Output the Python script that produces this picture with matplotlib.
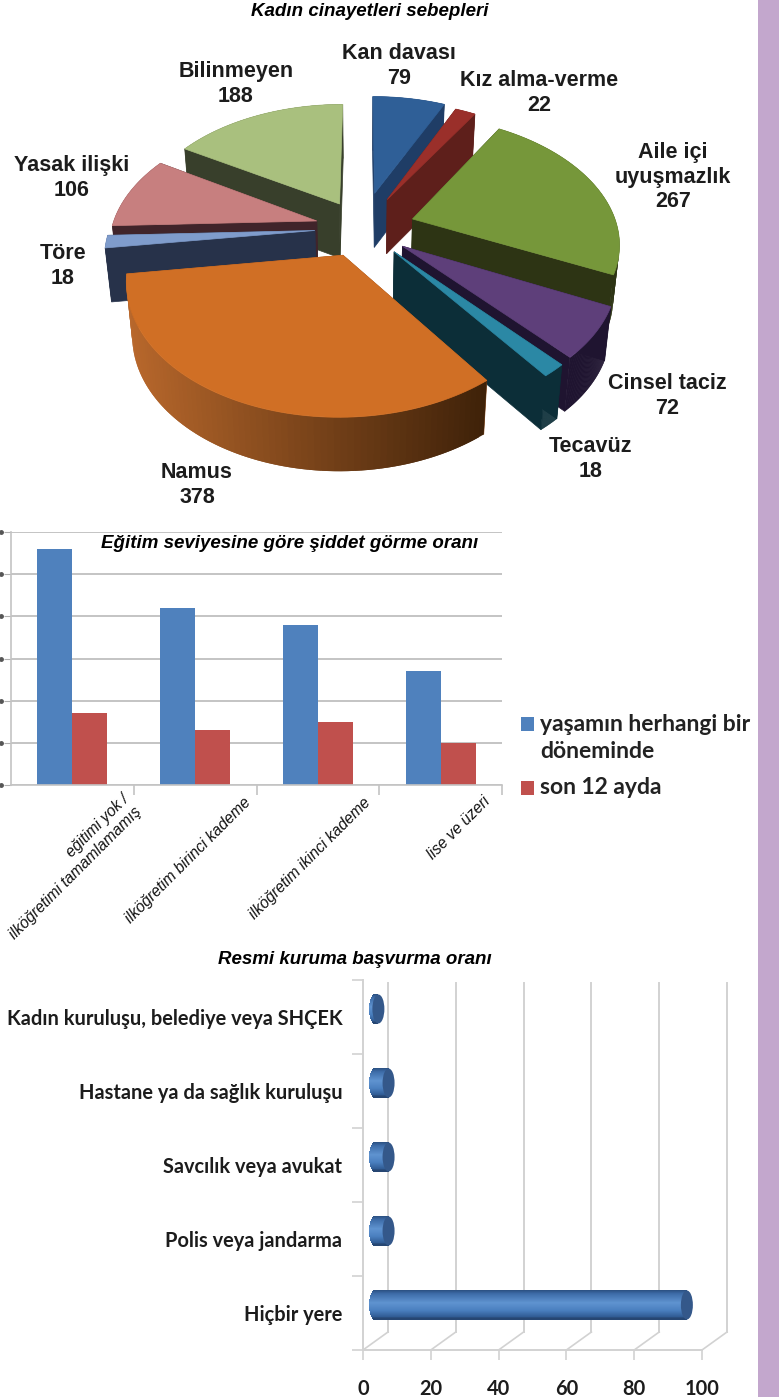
import numpy as np
import matplotlib
matplotlib.use('Agg')
from matplotlib import pyplot as plt
from matplotlib.colors import to_rgb
from matplotlib.patches import Ellipse, Rectangle
from matplotlib.transforms import ScaledTranslation

W, H = 779, 1397

# pie data
causes = ['Kan davası', 'Kız alma-verme', 'Aile içi\nuyuşmazlık', 'Cinsel taciz', 'Tecavüz',
          'Namus', 'Töre', 'Yasak ilişki', 'Bilinmeyen']
cause_counts = [79, 22, 267, 72, 18, 378, 18, 106, 188]

# grouped bars
edu_levels = ['eğitimi yok /\nilköğretimi tamamlamamış', 'ilköğretim birinci kademe',
              'ilköğretim ikinci kademe', 'lise ve üzeri']
lifetime = [56, 42, 38, 27]
last_12m = [17, 13, 15, 10]

# cylinder bars, bottom to top
institutions = ['Hiçbir yere', 'Polis veya jandarma', 'Savcılık veya avukat',
                'Hastane ya da sağlık kuruluşu', 'Kadın kuruluşu, belediye veya SHÇEK']
applied = [92, 4, 4, 4, 1]

BOLD = ['Liberation Sans', 'DejaVu Sans']
CAL = ['Lato', 'DejaVu Sans']
TXT = '#1c1c1c'

fig = plt.figure(figsize=(W / 100, H / 100), dpi=100, facecolor='white')


def px_axes(left, top, right, bottom):
    return fig.add_axes([left / W, 1 - bottom / H, (right - left) / W, (bottom - top) / H])


fig.add_artist(Rectangle((757.5 / W, 0), 1, 1, transform=fig.transFigure, color='#c3a7cd', lw=0))

# ---------- pie, drawn in pixel coordinates with a simple perspective
ax = px_axes(0, 0, 779, 510)
ax.set_xlim(0, 779)
ax.set_ylim(510, 0)
ax.axis('off')

top_colors = ['#2f5f97', '#9a2f2a', '#76973a', '#5e3f7a', '#2b88a5', '#d06f25', '#7f9ccc', '#c77f7f', '#a9c07e']
side_colors = ['#1f3d66', '#5e1f1b', '#2d3414', '#1f1430', '#0c2e38', '#8a4a1c', '#27324a', '#40242a', '#383f2b']
draw_order = [8, 0, 1, 7, 2, 6, 3, 4, 5]
label_pos = [(399, 66), (539, 93), (673, 177), (667, 396), (591, 459), (197, 485), (63, 266), (72, 178), (236, 84)]
explode = [0.30, 0.27, 0.26, 0.24, 0.24, 0.23, 0.23, 0.23, 0.23]

CX, CY, RX, RY, K = 362, 228, 205, 124, 0.17
DEPTH = 54


def project(x, y):
    s = 1 / (1 - K * y)
    return CX + RX * x * s, CY + RY * y * s


def lower(px, py):
    # the underside is slightly smaller than the top face
    return px - (px - CX) * 0.025, py + DEPTH


edges = np.cumsum([0] + cause_counts) / sum(cause_counts) * 2 * np.pi

for i in draw_order:
    t0, t1 = edges[i], edges[i + 1]
    mid = (t0 + t1) / 2
    ox, oy = explode[i] * np.sin(mid), -explode[i] * np.cos(mid)
    th = np.linspace(t0, t1, 80)
    px, py = project(ox + np.sin(th), oy - np.cos(th))
    ax0, ay0 = project(ox, oy)
    bx, by = lower(px, py)
    abx, aby = lower(ax0, ay0)

    # cut faces
    for k in (0, -1):
        ax.fill([ax0, px[k], bx[k], abx], [ay0, py[k], by[k], aby], color=side_colors[i], lw=0.5)

    # outer rim, Namus fades from light on the left to dark on the right
    for j in range(len(th) - 1):
        c = side_colors[i]
        e = min(j + 2, len(th) - 1)
        if causes[i] == 'Namus':
            f = (px[j] - px.min()) / (px.max() - px.min())
            c = np.array(to_rgb('#b9682c')) * (1 - f) + np.array(to_rgb('#3f2209')) * f
        ax.fill([px[j], px[e], bx[e], bx[j]], [py[j], py[e], by[e], by[j]], color=c, lw=0)

    ax.fill(np.r_[ax0, px], np.r_[ay0, py], color=top_colors[i], lw=0.5)

for name, value, (lx, ly) in zip(causes, cause_counts, label_pos):
    ax.text(lx, ly, f'{name}\n{value}', ha='center', va='center', fontsize=15.5, fontweight='bold',
            family=BOLD, color=TXT, linespacing=1.22)

ax.text(369.5, 12, 'Kadın cinayetleri sebepleri', ha='center', va='center', fontsize=13.5,
        fontweight='bold', fontstyle='italic', family=BOLD, color='black')

# ---------- grouped bars
ax2 = px_axes(11, 532, 502, 785)
x = np.arange(len(edu_levels))
bw = 0.285
ax2.set_axisbelow(True)
ax2.grid(axis='y', color='#c4c4c4', lw=1.4)
ax2.bar(x - bw / 2, lifetime, bw, color='#4f81bd')
ax2.bar(x + bw / 2, last_12m, bw, color='#c0504d')
ax2.set_xlim(-0.5, 3.5)
ax2.set_ylim(0, 60)
ax2.set_yticks(range(0, 61, 10))
ax2.set_yticklabels([])
ax2.tick_params(axis='y', length=5, color='#b0b0b0')
# the axis numbers are cropped away in the source, only a speck of each is left at the edge
ax2.plot([-10 / 491] * 7, range(0, 61, 10), 'o', ms=2.5, color='#555555',
         transform=ax2.get_yaxis_transform(), clip_on=False)
ax2.set_xticks(x + 0.5, minor=True)
ax2.set_xticks(x, edu_levels, rotation=45, ha='right', rotation_mode='anchor', fontsize=11.2,
               fontstyle='italic', family=['Liberation Sans', 'DejaVu Sans'], color='#111111')
ax2.tick_params(axis='x', which='major', length=0)
ax2.tick_params(axis='x', which='minor', length=7, color='#c4c4c4', width=1.2)
for s in ['top', 'right']:
    ax2.spines[s].set_visible(False)
for s in ['left', 'bottom']:
    ax2.spines[s].set_color('#c4c4c4')
    ax2.spines[s].set_linewidth(1.2)

# tick labels sit to the right of the category centres
label_shift = [(0.49, -0.02), (0.48, -0.05), (0.45, -0.05), (0.42, -0.04)]
for lab, (dx, dy) in zip(ax2.get_xticklabels(), label_shift):
    lab.set_transform(lab.get_transform() + ScaledTranslation(dx, dy, fig.dpi_scale_trans))

# legend by hand, the marker lines up with the first text line
legend_entries = [('yaşamın herhangi bir\ndöneminde', '#4f81bd', 724, 738), ('son 12 ayda', '#c0504d', 788, 788)]
for label, col, my, ty in legend_entries:
    fig.add_artist(Rectangle((521 / W, 1 - (my + 7) / H), 13 / W, 14 / H, transform=fig.transFigure, color=col, lw=0))
    fig.text(540 / W, 1 - ty / H, label, ha='left', va='center', fontsize=16.5, fontweight='bold', family=CAL,
             color='#222222', linespacing=1.35)

fig.text(289.5 / W, 1 - 544 / H, 'Eğitim seviyesine göre şiddet görme oranı', ha='center', va='center',
         fontsize=13.5, fontweight='bold', fontstyle='italic', family=BOLD, color='black')

# ---------- cylinder bars with a fake 3d wall
ax3 = px_axes(363, 980, 702, 1350)
ax3.set_xlim(0, 100)
ax3.set_ylim(0, 5)
ax3.patch.set_alpha(0)
xt = [0, 20, 40, 60, 80, 100]
GRID = '#d2d2d2'
back_x, back_y = 25 / 3.39, 18 / 74

for v in xt:
    ax3.plot([v + back_x] * 2, [back_y, 4.96], color=GRID, lw=1.4, clip_on=False, zorder=1)
    ax3.plot([v, v + back_x], [0, back_y], color=GRID, lw=1.2, clip_on=False, zorder=1)
ax3.plot([0, 0], [0, 5], color=GRID, lw=1.4, clip_on=False, zorder=1)
ax3.plot([0, 100], [0, 0], color=GRID, lw=1.4, clip_on=False, zorder=1)

grad_pos = [-1, -0.75, -0.15, 0.35, 0.8, 1]
grad_col = np.array([to_rgb(c) for c in ['#2b4f80', '#3d6ca8', '#5f93d0', '#4a7fbf', '#2f5a92', '#24426c']])
half_h = 14.5 / 74
cap_w = 6 / 3.39
left0 = 12 / 3.39
n_strips = 30

for i, v in enumerate(applied):
    yc = i + 0.5 + 8 / 74
    ts = (np.arange(n_strips) + 0.5) / n_strips * 2 - 1
    for t in ts:
        col = [np.interp(t, grad_pos, grad_col[:, k]) for k in range(3)]
        off = cap_w * np.sqrt(1 - t * t)
        ax3.barh(yc - t * half_h, v + off, height=2 * half_h / n_strips * 1.15, left=left0 - off,
                 color=col, lw=0, zorder=3, clip_on=False)
    ax3.add_patch(Ellipse((left0 + v, yc), 2 * cap_w, 2 * half_h, color='#34588a', lw=0, zorder=4, clip_on=False))

ax3.set_xticks(xt)
ax3.set_xticklabels(xt, fontsize=14.4, fontweight='bold', family=CAL, color=TXT)
ax3.set_yticks(range(6))
ax3.set_yticklabels([])
ax3.set_yticks(np.arange(5) + 0.5, minor=True)
ax3.set_yticklabels(institutions, minor=True, fontsize=14.4, fontweight='bold', family=CAL, color=TXT)
ax3.tick_params(axis='y', which='major', length=8, color=GRID, width=1.2)
ax3.tick_params(axis='y', which='minor', length=0, pad=15)
ax3.tick_params(axis='x', length=7, color=GRID, width=1.2, pad=14)
for s in ax3.spines.values():
    s.set_visible(False)

fig.text(354.5 / W, 1 - 960 / H, 'Resmi kuruma başvurma oranı', ha='center', va='center', fontsize=13.5,
         fontweight='bold', fontstyle='italic', family=BOLD, color='black')

fig.savefig('out.png', dpi=100)
